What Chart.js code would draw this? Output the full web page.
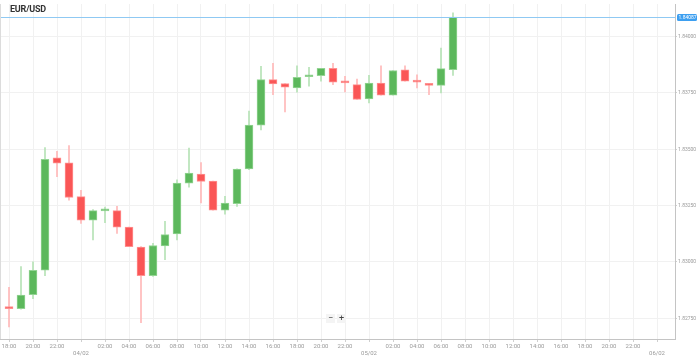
<!DOCTYPE html>
<html lang="en">
  <head>
    <meta charset="UTF-8" />
    <title>EUR/USD</title>
    <style>
      body { margin: 0; background: #fff; font-family: Roboto, "Open Sans", sans-serif; }
      .wrap { position: relative; width: 699px; height: 357px; }
      .pair { position: absolute; left: 10px; top: 4px; font-size: 9px; font-weight: bold; color: #333; letter-spacing: -0.2px; }
      .zoom { position: absolute; left: 326px; top: 314px; display: flex; gap: 2px; }
      .zoom span { display: block; width: 9px; height: 9px; line-height: 9px; font-size: 9px; text-align: center; color: #444; background: #f4f4f4; }
    </style>
  </head>
  <body>
    <div class="wrap">
      <canvas id="myChart" width="699" height="357"></canvas>
      <div class="pair">EUR/USD</div>
      <div class="zoom"><span>−</span><span>+</span></div>
    </div>

    <script src="https://cdn.jsdelivr.net/npm/chart.js"></script>

    <script>
      // hours since 03/02 18:00, one candle per hour
      const hours = [0, 1, 2, 3, 4, 5, 6, 7, 8, 9, 10, 11, 12, 13, 14, 15, 16, 17, 18, 19,
        20, 21, 22, 23, 24, 25, 26, 27, 28, 29, 30, 31, 32, 33, 34, 35, 36, 37];

      const open = [1.82800, 1.82793, 1.82855, 1.82963, 1.83462, 1.83440, 1.83290, 1.83186, 1.83227, 1.83228,
        1.83155, 1.83066, 1.82939, 1.83071, 1.83124, 1.83350, 1.83390, 1.83359, 1.83230, 1.83259,
        1.83413, 1.83607, 1.83809, 1.83792, 1.83772, 1.83822, 1.83827, 1.83860, 1.83798, 1.83787,
        1.83724, 1.83794, 1.83740, 1.83853, 1.83801, 1.83790, 1.83784, 1.83853];
      const high = [1.82887, 1.82980, 1.83000, 1.83508, 1.83491, 1.83516, 1.83318, 1.83233, 1.83244, 1.83247,
        1.83155, 1.83068, 1.83083, 1.83180, 1.83365, 1.83506, 1.83441, 1.83359, 1.83291, 1.83413,
        1.83670, 1.83868, 1.83882, 1.83792, 1.83871, 1.83864, 1.83860, 1.83882, 1.83824, 1.83812,
        1.83828, 1.83871, 1.83850, 1.83871, 1.83831, 1.83790, 1.83949, 1.84106];
      const low = [1.82712, 1.82790, 1.82837, 1.82939, 1.83379, 1.83274, 1.83171, 1.83098, 1.83174, 1.83127,
        1.83068, 1.82731, 1.82936, 1.83010, 1.83098, 1.83332, 1.83262, 1.83230, 1.83212, 1.83247,
        1.83410, 1.83586, 1.83743, 1.83666, 1.83754, 1.83780, 1.83802, 1.83787, 1.83755, 1.83721,
        1.83706, 1.83740, 1.83740, 1.83802, 1.83772, 1.83743, 1.83750, 1.83828];
      const close = [1.82793, 1.82853, 1.82963, 1.83456, 1.83438, 1.83286, 1.83186, 1.83228, 1.83229, 1.83154,
        1.83068, 1.82939, 1.83073, 1.83121, 1.83350, 1.83394, 1.83357, 1.83230, 1.83261, 1.83412,
        1.83607, 1.83809, 1.83790, 1.83776, 1.83820, 1.83824, 1.83860, 1.83798, 1.83795, 1.83721,
        1.83794, 1.83740, 1.83850, 1.83802, 1.83798, 1.83784, 1.83858, 1.84087];

      const tickHours = [0, 2, 4, 6, 8, 10, 12, 14, 16, 18, 20, 22, 24, 26,
        28, 30, 32, 34, 36, 38, 40, 42, 44, 46, 48, 50, 52, 54];
      const tickLabels = ["18:00", "20:00", "22:00", ["", "04/02"], "02:00", "04:00", "06:00", "08:00",
        "10:00", "12:00", "14:00", "16:00", "18:00", "20:00", "22:00", ["", "05/02"], "02:00", "04:00",
        "06:00", "08:00", "10:00", "12:00", "14:00", "16:00", "18:00", "20:00", "22:00", ["", "06/02"]];
      const priceTicks = [1.8275, 1.83, 1.8325, 1.835, 1.8375, 1.84];

      const lastPrice = close[close.length - 1];
      const up = hours.map((h, i) => close[i] >= open[i]);

      const priceLine = {
        id: "priceLine",
        afterDatasetsDraw(chart) {
          const c = chart.ctx;
          const area = chart.chartArea;
          const y = Math.round(chart.scales.y.getPixelForValue(lastPrice)) + 0.5;
          c.save();
          c.strokeStyle = "#8fc9f3";
          c.lineWidth = 1;
          c.beginPath();
          c.moveTo(area.left, y);
          c.lineTo(area.right, y);
          c.stroke();
          // left frame line
          c.strokeStyle = "#dcdcdc";
          c.beginPath();
          c.moveTo(area.left + 0.5, area.top);
          c.lineTo(area.left + 0.5, area.bottom);
          c.stroke();
          // price tag
          c.fillStyle = "#3d9ff0";
          c.beginPath();
          c.roundRect(area.right + 2, y - 3.5, 20, 7, 1.5);
          c.fill();
          c.fillStyle = "#fff";
          c.font = "5px Roboto";
          c.textBaseline = "middle";
          c.fillText(lastPrice.toFixed(5), area.right + 3.5, y + 0.3);
          c.restore();
        },
      };

      const ctx = document.getElementById("myChart");

      const chart = new Chart(ctx, {
        type: "bar",
        data: {
          datasets: [
            {
              label: "body",
              data: hours.map((h, i) => ({ x: h, y: [open[i], close[i]] })),
              backgroundColor: up.map((u) => (u ? "#5cb85c" : "#fa5656")),
              borderColor: up.map((u) => (u ? "#93d493" : "#ff9191")),
              borderWidth: 1,
              borderSkipped: false,
              barThickness: 8,
              minBarLength: 2,
              grouped: false,
            },
            {
              label: "wick",
              data: hours.map((h, i) => ({ x: h, y: [low[i], high[i]] })),
              backgroundColor: up.map((u) => (u ? "#b6e2b6" : "#ffb8b8")),
              borderWidth: 0,
              barThickness: 1,
              grouped: false,
            },
          ],
        },
        options: {
          responsive: false,
          animation: false,
          layout: { padding: { top: -3, left: 0, right: 0, bottom: 0 } },
          plugins: {
            legend: { display: false },
            tooltip: { enabled: false },
          },
          scales: {
            x: {
              type: "linear",
              min: -0.75,
              max: 55.5,
              offset: false,
              afterBuildTicks: (scale) => {
                scale.ticks = tickHours.map((v) => ({ value: v }));
              },
              afterFit: (scale) => {
                scale.height = 18;
              },
              ticks: {
                autoSkip: false,
                maxRotation: 0,
                padding: 1,
                color: "#9a9a9a",
                font: { size: 6, family: "Roboto" },
                callback: (value, index) => tickLabels[index],
              },
              grid: { color: "#f1f1f1", offset: false, tickLength: 3, tickColor: "#cfcfcf" },
              border: { color: "#c4c4c4" },
            },
            y: {
              position: "right",
              min: 1.82658,
              max: 1.84145,
              afterBuildTicks: (scale) => {
                scale.ticks = priceTicks.map((v) => ({ value: v }));
              },
              afterFit: (scale) => {
                scale.width = 24;
              },
              ticks: {
                padding: 1,
                color: "#9a9a9a",
                font: { size: 5, family: "Roboto" },
                callback: (value) => value.toFixed(5),
              },
              grid: { color: "#f1f1f1", tickLength: 2, tickColor: "#cfcfcf" },
              border: { color: "#c4c4c4" },
            },
          },
        },
        plugins: [priceLine],
      });
    </script>
  </body>
</html>
